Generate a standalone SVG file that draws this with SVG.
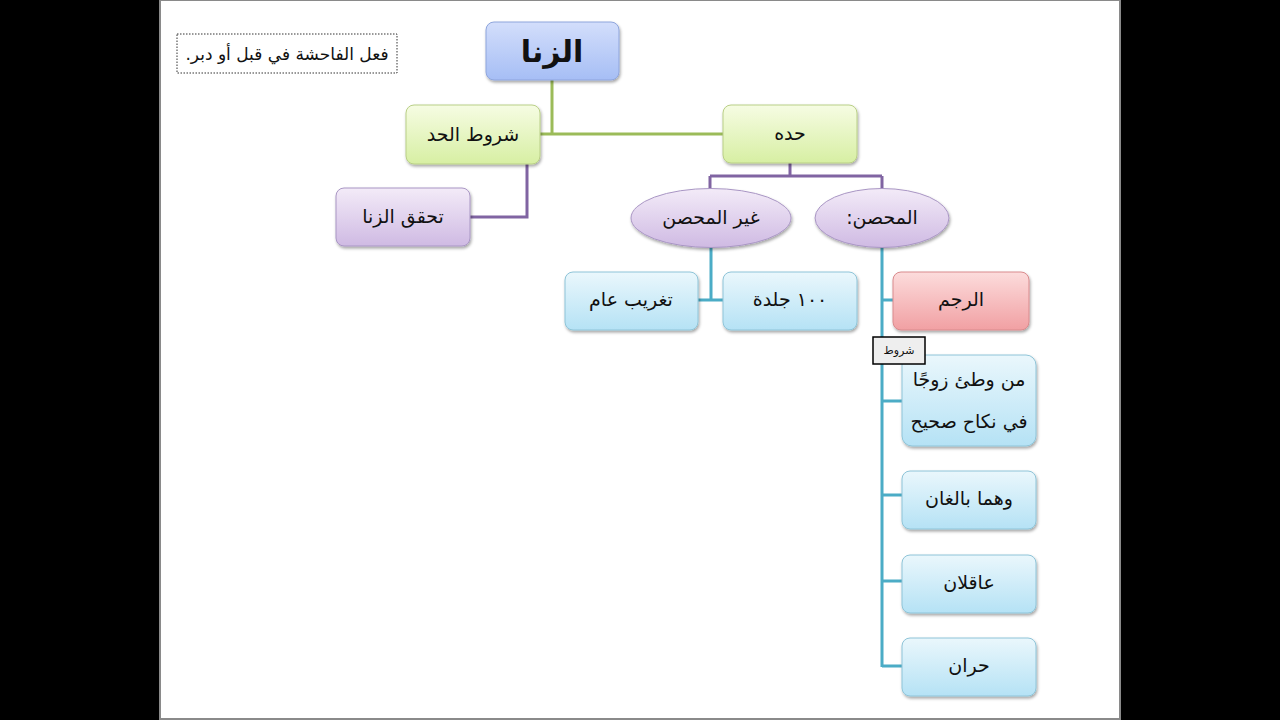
<svg xmlns="http://www.w3.org/2000/svg" width="1280" height="720" viewBox="0 0 1280 720">
<defs>
<linearGradient id="gBlue" x1="0" y1="0" x2="0" y2="1"><stop offset="0" stop-color="#d3defb"/><stop offset="1" stop-color="#a6bef5"/></linearGradient>
<linearGradient id="gGreen" x1="0" y1="0" x2="0" y2="1"><stop offset="0" stop-color="#f6fce3"/><stop offset="1" stop-color="#d7efa3"/></linearGradient>
<linearGradient id="gPurple" x1="0" y1="0" x2="0" y2="1"><stop offset="0" stop-color="#f3ebf8"/><stop offset="1" stop-color="#cfbae3"/></linearGradient>
<linearGradient id="gCyan" x1="0" y1="0" x2="0" y2="1"><stop offset="0" stop-color="#eaf7fc"/><stop offset="1" stop-color="#b5e2f5"/></linearGradient>
<linearGradient id="gRed" x1="0" y1="0" x2="0" y2="1"><stop offset="0" stop-color="#fcdcdc"/><stop offset="1" stop-color="#f1a0a3"/></linearGradient>
<filter id="sh" x="-20%" y="-20%" width="140%" height="150%"><feDropShadow dx="1" dy="2" stdDeviation="1.8" flood-color="#000" flood-opacity="0.35"/></filter>
</defs>
<style>
.t{font-family:"DejaVu Sans","Noto Sans",sans-serif;font-size:19px;fill:#111;text-anchor:middle;direction:rtl}
.big{font-size:30px;font-weight:bold}
.sm{font-size:11px}
.df{font-size:17px}
.box{stroke-width:1}
.bl{fill:url(#gBlue);stroke:#8ea5dc}
.gr{fill:url(#gGreen);stroke:#b9cf86}
.pu{fill:url(#gPurple);stroke:#a996c4}
.cy{fill:url(#gCyan);stroke:#8ec4d8}
.rd{fill:url(#gRed);stroke:#d98a8d}
.cg{stroke:#9bbb59;stroke-width:3;fill:none}
.cp{stroke:#8064a2;stroke-width:3;fill:none}
.cb{stroke:#4bacc6;stroke-width:3;fill:none}
</style>
<rect x="0" y="0" width="1280" height="720" fill="#000"/>
<rect x="160" y="0" width="960" height="719" fill="#fff" stroke="#8a8a8a" stroke-width="2"/>

<g id="connectors">
<path class="cg" d="M552 80 V134 M540 134 H723"/>
<path class="cp" d="M527 164 V217 H470"/>
<path class="cp" d="M790 163 V176 M710 176 H882 M710 176 V190 M882 176 V190"/>
<path class="cb" d="M711 247 V300 M698 300 H723"/>
<path class="cb" d="M882 247 V667 M882 300 H893 M882 401 H902 M882 495 H902 M882 581 H902 M882 666 H902"/>
</g>

<g id="def">
<rect x="177" y="34" width="220" height="39" fill="#fff" stroke="#333" stroke-width="1" stroke-dasharray="1.5,1.5"/>
<text class="t df" x="287" y="60">فعل الفاحشة في قبل أو دبر.</text>
</g>
<g id="zina">
<rect class="box bl" x="486" y="22" width="133" height="58" rx="8" filter="url(#sh)"/>
<text class="t big" x="552" y="62">الزنا</text>
</g>
<g id="shurut-hadd">
<rect class="box gr" x="406" y="105" width="134" height="59" rx="8" filter="url(#sh)"/>
<text class="t" x="473" y="141">شروط الحد</text>
</g>
<g id="hadd">
<rect class="box gr" x="723" y="105" width="134" height="58" rx="8" filter="url(#sh)"/>
<text class="t" x="790" y="140">حده</text>
</g>
<g id="tahaqquq">
<rect class="box pu" x="336" y="188" width="134" height="58" rx="8" filter="url(#sh)"/>
<text class="t" x="403" y="223">تحقق الزنا</text>
</g>
<g id="ghayr-muhsan">
<ellipse class="box pu" cx="711" cy="218" rx="80" ry="29.5" filter="url(#sh)"/>
<text class="t" x="711" y="224">غير المحصن</text>
</g>
<g id="muhsan">
<ellipse class="box pu" cx="882" cy="218" rx="67" ry="29.5" filter="url(#sh)"/>
<text class="t" x="882" y="224">المحصن:</text>
</g>
<g id="jalda">
<rect class="box cy" x="723" y="272" width="134" height="58" rx="8" filter="url(#sh)"/>
<text class="t" x="790" y="306">١٠٠ جلدة</text>
</g>
<g id="taghrib">
<rect class="box cy" x="565" y="272" width="133" height="58" rx="8" filter="url(#sh)"/>
<text class="t" x="631" y="306">تغريب عام</text>
</g>
<g id="rajm">
<rect class="box rd" x="893" y="272" width="136" height="58" rx="8" filter="url(#sh)"/>
<text class="t" x="961" y="306">الرجم</text>
</g>
<g id="watia">
<rect class="box cy" x="902" y="355" width="134" height="91" rx="10" filter="url(#sh)"/>
<text class="t" x="969" y="386">من وطئ زوجًا</text>
<text class="t" x="969" y="428">في نكاح صحيح</text>
</g>
<g id="shurut-label">
<rect x="873" y="337" width="52" height="27" fill="#eeeeee" stroke="#000" stroke-width="1.5"/>
<text class="t sm" x="899" y="354">شروط</text>
</g>
<g id="balighan">
<rect class="box cy" x="902" y="471" width="134" height="58" rx="8" filter="url(#sh)"/>
<text class="t" x="969" y="505">وهما بالغان</text>
</g>
<g id="aqilan">
<rect class="box cy" x="902" y="555" width="134" height="58" rx="8" filter="url(#sh)"/>
<text class="t" x="969" y="589">عاقلان</text>
</g>
<g id="hurran">
<rect class="box cy" x="902" y="638" width="134" height="58" rx="8" filter="url(#sh)"/>
<text class="t" x="969" y="672">حران</text>
</g>
</svg>
